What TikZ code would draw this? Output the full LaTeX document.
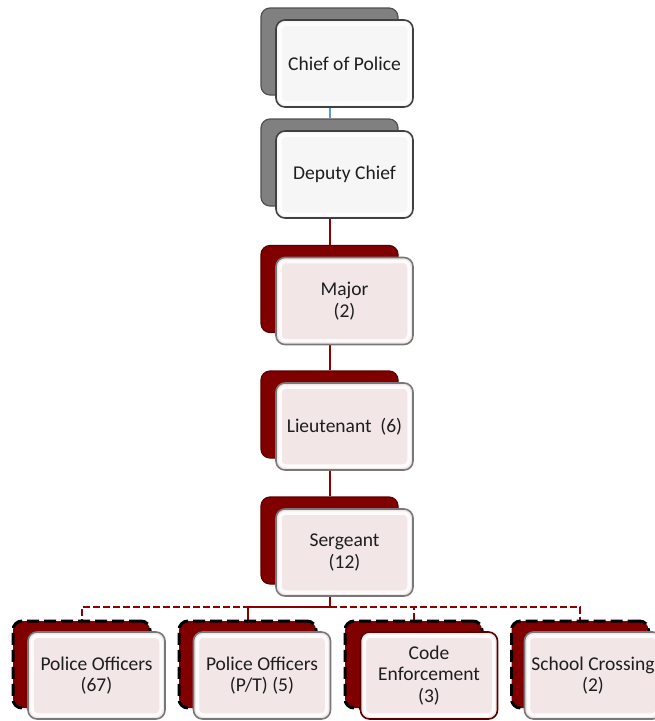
\documentclass[tikz,border=0pt]{standalone}
\usepackage{fontspec}
\setmainfont{Carlito}
\usetikzlibrary{backgrounds}
\definecolor{maroonA}{RGB}{128,0,0}
\definecolor{maroonD}{RGB}{90,0,0}
\definecolor{lineRed}{RGB}{140,0,0}
\definecolor{lineBlue}{RGB}{91,155,213}
\definecolor{grayBack}{RGB}{128,128,128}
\definecolor{grayBackD}{RGB}{80,80,80}
\definecolor{frontGrayFill}{RGB}{246,246,246}
\definecolor{frontGrayDraw}{RGB}{64,64,64}
\definecolor{pinkFill}{RGB}{242,230,230}
\definecolor{pinkDraw}{RGB}{120,120,120}
\definecolor{txt}{RGB}{30,30,30}
\begin{document}
\begin{tikzpicture}[x=1pt,y=-1pt,
  box/.style={rounded corners=9pt, minimum width=137pt, minimum height=87pt, inner sep=0pt},
  bevel/.style={path picture={\draw[white, line width=3.5pt, opacity=0.85, rounded corners=6pt]
      ([shift={(4pt,-4pt)}]path picture bounding box.north west) rectangle
      ([shift={(-4pt,4pt)}]path picture bounding box.south east);}},
  backgray/.style={box, fill=grayBack, draw=grayBackD, line width=1.2pt},
  backred/.style={box, fill=maroonA, draw=maroonD, line width=1.2pt},
  backdash/.style={box, fill=maroonA, draw=black, line width=3pt, dash pattern=on 12pt off 5pt},
  frontbase/.style={box, text=txt, align=center, font=\fontsize{19.5}{21.5}\selectfont, bevel},
  frontgray/.style={frontbase, fill=frontGrayFill, draw=frontGrayDraw, line width=1.6pt},
  frontpink/.style={frontbase, fill=pinkFill, draw=pinkDraw, line width=1.6pt},
  frontpinkred/.style={frontbase, fill=pinkFill, draw=maroonD, line width=1.6pt},
  redline/.style={draw=lineRed, line width=2pt},
  reddash/.style={draw=lineRed, line width=2pt, dash pattern=on 7pt off 3pt},
  blueline/.style={draw=lineBlue, line width=2pt},
]
\useasboundingbox (0,0) rectangle (654,721);

% Chief of Police
\node[backgray] (chiefB) at (329.5,51.5) {};
\node[frontgray] (chief) at (344.5,63.5) {Chief of Police};
% Deputy Chief
\node[backgray] (depB) at (329.5,162.5) {};
\node[frontgray] (dep) at (344.5,174.5) {Deputy Chief};
% Major
\node[backred] (majB) at (329.5,289) {};
\node[frontpink] (maj) at (344.5,301) {Major\\(2)};
% Lieutenant
\node[backred] (ltB) at (329.5,414.5) {};
\node[frontpink] (lt) at (344.5,426.5) {Lieutenant~ (6)};
% Sergeant
\node[backred] (sgtB) at (329.5,540.5) {};
\node[frontpink] (sgt) at (344.5,552.5) {Sergeant\\(12)};

% Bottom row
\node[backdash] (o1B) at (81.5,664.5) {};
\node[frontpink] (o1) at (96.5,675.5) {Police Officers\\(67)};
\node[backdash] (o2B) at (247.5,664.5) {};
\node[frontpink] (o2) at (262,675.5) {Police Officers\\(P/T) (5)};
\node[backdash] (o3B) at (413.5,664.5) {};
\node[frontpinkred] (o3) at (429,675.5) {Code\\Enforcement\\(3)};
\node[backdash] (o4B) at (580,664.5) {};
\node[frontpink] (o4) at (593,675.5) {School Crossing\\(2)};

\coordinate (bus) at (0,607);

\begin{pgfonlayer}{background}
  \draw[blueline] (chiefB.south) -- (depB.north);
  \draw[redline] (depB.south) -- (majB.north);
  \draw[redline] (majB.south) -- (ltB.north);
  \draw[redline] (ltB.south) -- (sgtB.north);
  \draw[redline] (sgtB.south) -- (sgtB.south |- bus);
  \draw[reddash] (sgtB.south |- bus) -| (o1B.north);
  \draw[redline] (sgtB.south |- bus) -| (o2B.north);
  \draw[reddash] (sgtB.south |- bus) -| (o3B.north);
  \draw[reddash] (sgtB.south |- bus) -| (o4B.north);
\end{pgfonlayer}
\end{tikzpicture}
\end{document}
